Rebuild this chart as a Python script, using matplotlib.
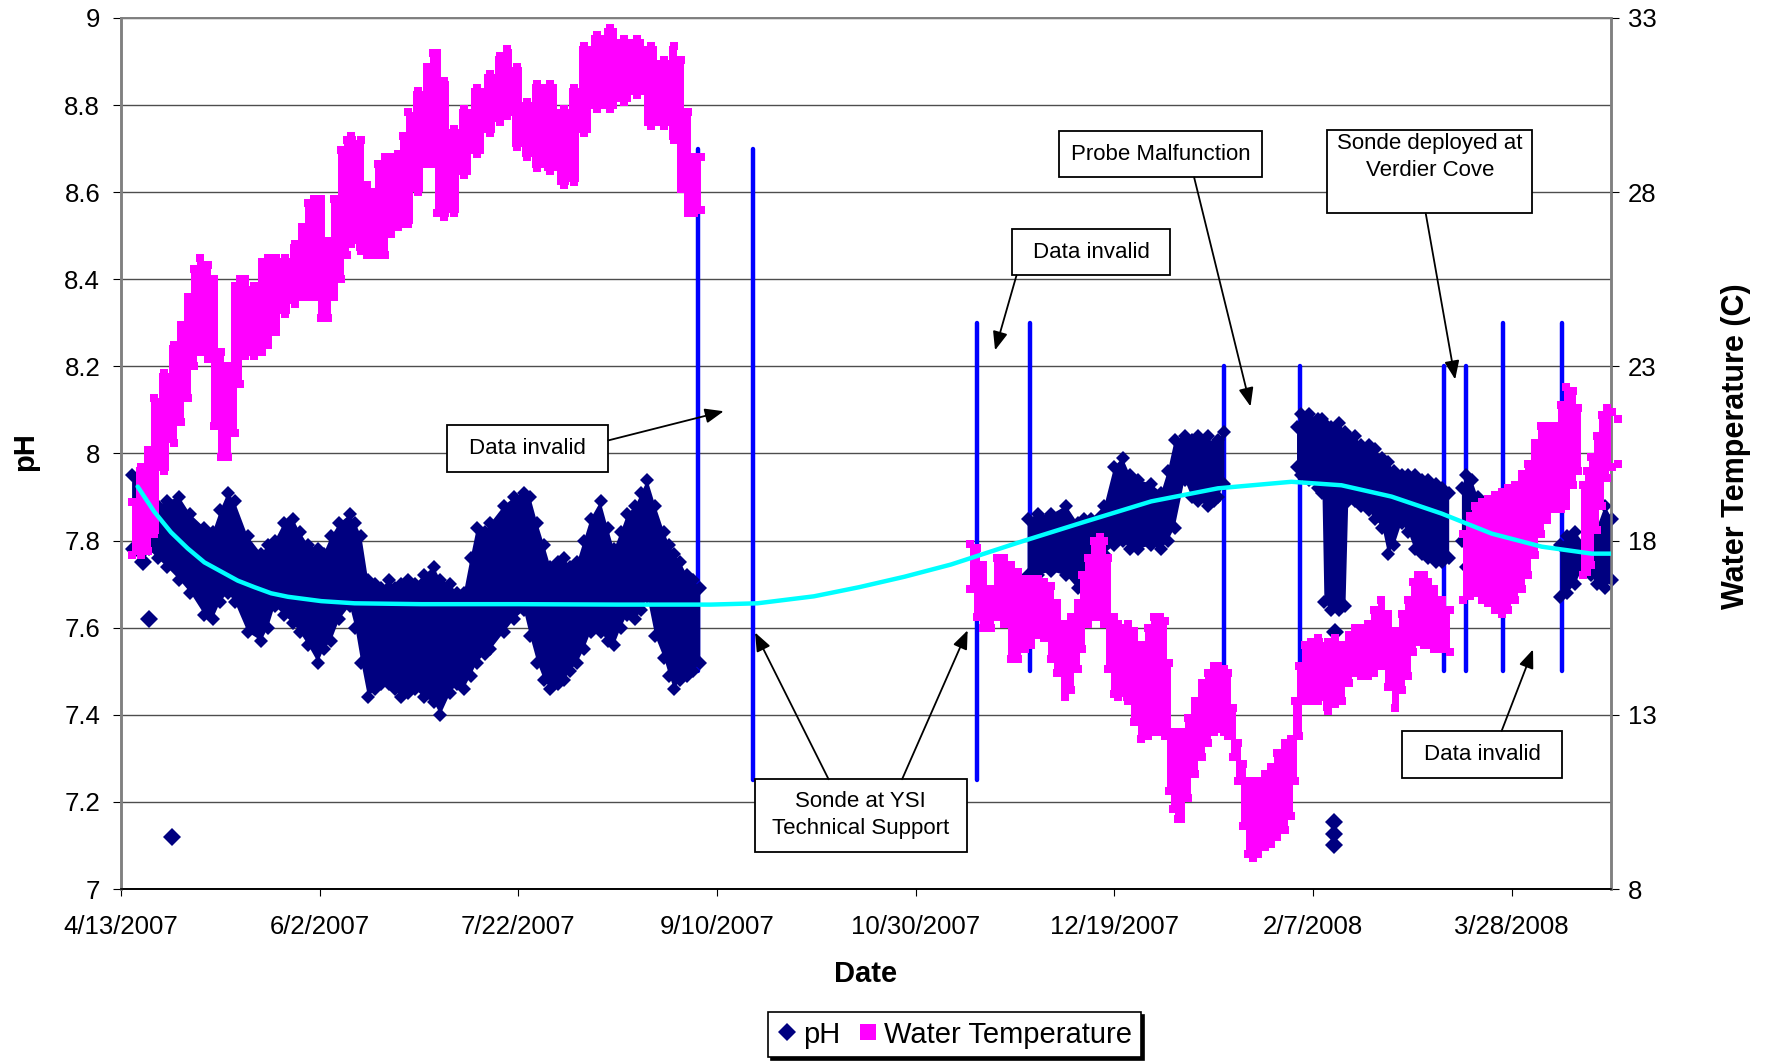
import numpy as np
import pandas as pd
import matplotlib
matplotlib.use('Agg')
import matplotlib.pyplot as plt
from matplotlib.lines import Line2D
from matplotlib.patches import Rectangle

plt.rcParams['font.family'] = ['Liberation Sans', 'DejaVu Sans']

start = pd.Timestamp('2007-04-13')
tick_labels = ['4/13/2007', '6/2/2007', '7/22/2007', '9/10/2007',
               '10/30/2007', '12/19/2007', '2/7/2008', '3/28/2008']
nan = np.nan

# pH envelope (low / high of the 15-min readings), x = days since 4/13/2007
ph_day = [2.8, 5.0, 7.0, 9.2, 11.5, 14.7, 17.5, 21.0, 23.1, 25.0, 26.9, 28.6, 31.9, 35.3, 37.0, 38.7,
          41.0, 43.3, 45.0, 47.1, 49.6, 51.0, 52.9, 55.0, 57.6, 59.0, 60.5, 62.2, 64.0, 65.5, 67.5,
          68.9, 70.5, 72.3, 74.0, 76.2, 78.7, 80.4, 82.9, 84.5, 86.3, 88.0, 89.6, 91.5, 93.0, 96.4,
          99.0, 101.4, 103.0, 104.8, 106.5, 108.1, 110.0, 111.5, 113.0, 114.8, 116.5, 118.2, 120.7,
          122.5, 124.1, 125.8, 127.4, 129.5, 131.0, 132.5, 134.5, 136.7, 138.0, 139.2, 140.8, 142.5,
          144.0, 145.8, 150,
          228.2, 230.7, 234.1, 237.9, 240.8, 242.5, 244.2, 247.5, 250.0, 252.1, 254.0, 255.9, 259.3,
          261.8, 263.5, 265.2, 267.7, 269.5, 271.1, 273.6, 275.0, 276.1, 277.7, 285,
          296.0, 297.0, 299.0, 301.3, 302.4, 302.9, 304.5, 306.5, 308.2, 308.9, 310.5, 312.2, 314.0,
          315.6, 317.5, 318.9, 320.5, 322.3, 324.0, 325.6, 327.5, 329.0, 331.0, 332.4, 334.3, 336,
          337.5, 338.5, 340.0, 341.5, 350,
          362.3, 364.0, 366.0, 368.5, 370.0, 371.5, 373.5, 375.3]
ph_lo = [7.78, 7.77, 7.78, 7.76, 7.74, 7.71, 7.68, 7.63, 7.62, 7.66, 7.68, 7.66, 7.59, 7.57, 7.60, 7.65,
         7.63, 7.61, 7.59, 7.56, 7.52, 7.55, 7.57, 7.62, 7.65, 7.60, 7.52, 7.44, 7.46, 7.47, 7.47,
         7.46, 7.44, 7.45, 7.46, 7.44, 7.43, 7.40, 7.45, 7.47, 7.46, 7.49, 7.52, 7.54, 7.55, 7.59,
         7.62, 7.64, 7.58, 7.52, 7.48, 7.46, 7.47, 7.48, 7.50, 7.52, 7.55, 7.59, 7.59,
         7.57, 7.56, 7.60, 7.63, 7.62, 7.64, 7.67, 7.58, 7.53, 7.49, 7.46, 7.48, 7.49,
         7.50, 7.52, nan,
         7.72, 7.72, 7.73, 7.72, 7.69, 7.72, 7.74, 7.77, 7.79, 7.80, 7.78, 7.78, 7.79,
         7.78, 7.80, 7.83, 7.94, 7.90, 7.89, 7.88, 7.89, 7.90, 7.93, nan,
         7.97, 7.95, 7.94, 7.92, 7.91, 7.66, 7.64, 7.64, 7.65, 7.89, 7.89, 7.88, 7.87,
         7.85, 7.83, 7.77, 7.79, 7.84, 7.82, 7.78, 7.77, 7.76, 7.75, 7.75, 7.76, nan,
         7.80, 7.74, 7.74, 7.77, nan,
         7.67, 7.68, 7.70, 7.75, 7.72, 7.70, 7.69, 7.71]
ph_hi = [7.95, 7.94, 7.93, 7.88, 7.89, 7.90, 7.86, 7.83, 7.82, 7.87, 7.91, 7.89, 7.81, 7.77, 7.79, 7.80,
         7.84, 7.85, 7.82, 7.79, 7.78, 7.77, 7.81, 7.84, 7.86, 7.84, 7.81, 7.71, 7.70, 7.69, 7.71,
         7.69, 7.70, 7.71, 7.70, 7.72, 7.74, 7.71, 7.70, 7.68, 7.68, 7.76, 7.83, 7.82, 7.84, 7.88,
         7.90, 7.91, 7.90, 7.84, 7.79, 7.74, 7.75, 7.76, 7.74, 7.75, 7.80, 7.85, 7.89,
         7.83, 7.78, 7.82, 7.86, 7.88, 7.91, 7.94, 7.88, 7.82, 7.79, 7.77, 7.75, 7.72,
         7.71, 7.69, nan,
         7.85, 7.86, 7.86, 7.88, 7.84, 7.85, 7.85, 7.88, 7.97, 7.99, 7.95, 7.94, 7.93,
         7.91, 7.96, 8.03, 8.04, 8.03, 8.04, 8.04, 8.02, 8.03, 8.05, nan,
         8.06, 8.09, 8.09, 8.08, 8.08, 8.07, 8.06, 8.07, 8.05, 8.04, 8.04, 8.02, 8.02,
         8.01, 7.99, 7.98, 7.96, 7.95, 7.95, 7.95, 7.94, 7.94, 7.93, 7.92, 7.91, nan,
         7.92, 7.95, 7.94, 7.90, nan,
         7.79, 7.81, 7.82, 7.79, 7.80, 7.83, 7.88, 7.85]

# isolated pH readings
ph_out_day = [5.5, 7.1, 12.8, 305.5, 306.2, 305.6, 305.4, 305.4, 305.4, 344.0, 344.8]
ph_out_val = [7.75, 7.62, 7.12, 7.59, 7.55, 7.48, 7.153, 7.127, 7.101, 7.75, 7.72]

# water temperature envelope (C)
temp_day = [2.8, 5.0, 6.7, 8.4, 10.9, 13.4, 15.0, 16.8, 18.5, 20.0, 21.8, 23.5, 25.2, 26.9, 28.6, 30.0,
            31.1, 33.6, 35.5, 37.0, 39.0, 41.2, 43.7, 45.5, 47.0, 48.7, 50.4, 52.1, 53.7, 55.5, 57.0,
            58.0, 60.5, 61.8, 63.0, 64.8, 66.4, 68.0, 69.7, 71.0, 72.3, 74.8, 77.0, 78.5, 79.6, 81.3,
            83.8, 86.3, 89.7, 93.0, 95.5, 97.2, 99.7, 102.2, 104.8, 108.1, 111.5, 114.0, 116.5, 119.9,
            123.2, 126.6, 130.0, 133.3, 136.7, 139.2, 140.9, 142.6, 144.2, 145.9, 180,
            213.8, 215.5, 217.0, 219.0, 220.5, 222.3, 224.0, 225.7, 227.5, 229.1, 230.8, 232.4, 234.0,
            235.5, 237.5, 239.0, 240.8, 242.0, 243.3, 245.0, 246.3, 247.5, 248.4, 250.0, 250.9, 253.4,
            255.0, 256.8, 258.5, 260.1, 261.5, 262.7, 263.8, 264.7, 266.0, 266.9, 268.5, 270.2, 272.0,
            273.6, 275.0, 276.1, 277.5, 278.6, 280.0, 281.1, 282.5, 283.7, 285.0, 286.2, 288.0, 289.5,
            291.0, 292.9, 294.6, 295.4, 296.5, 297.9, 299.5, 301.3, 303.8, 305.5, 307.2, 309.0, 310.5,
            312.0, 313.9, 315.5, 317.2, 319.0, 320.6, 322.5, 324.0, 325.2, 326.5, 328.0, 329.0, 330.5,
            332.4, 334.5, 336.2,
            337.8, 339.5, 340.8, 342.5, 344.1, 345.8, 347.5, 349.0, 350.8, 352.5, 354.2, 355.8, 357.5,
            359.0, 360.9, 362.5, 363.8, 365.5, 366.8, 368.0, 369.0, 370.1, 371.5, 372.7, 374.0, 375.2,
            376.8]
temp_lo = [17.6, 17.6, 17.7, 18.2, 20.0, 20.8, 21.4, 22.1, 23.0, 23.4, 23.2, 21.3, 20.4, 20.4, 21.1, 22.5,
           23.3, 23.3, 23.4, 23.6, 24.0, 24.5, 24.8, 25.0, 25.0, 25.0, 24.4, 24.4, 25.0, 25.5, 26.2,
           26.5, 26.3, 26.2, 26.2, 26.2, 26.2, 26.8, 27.0, 27.1, 27.1, 28.0, 28.8, 28.8, 27.4, 27.3,
           27.4, 28.5, 29.1, 29.7, 30.0, 30.2, 29.3, 29.0, 28.7, 28.6, 28.2, 28.3, 29.7, 30.4,
           30.4, 30.6, 30.8, 29.9, 29.9, 29.5, 28.1, 27.4, 27.4, 27.5, nan,
           16.6, 15.8, 15.5, 15.5, 15.8, 15.6, 14.6, 14.6, 14.9, 15.0, 15.3, 15.2, 14.6,
           14.2, 13.5, 13.7, 14.3, 14.9, 15.6, 15.8, 15.8, 15.6, 14.3, 13.6, 13.5, 13.4,
           12.8, 12.3, 12.4, 12.5, 12.5, 12.4, 10.8, 10.3, 10.0, 10.0, 10.6, 11.3, 11.8,
           12.2, 12.5, 12.6, 12.5, 12.4, 11.8, 11.1, 9.8, 9.0, 8.9, 9.0, 9.2, 9.3,
           9.5, 9.7, 10.1, 11.1, 12.4, 13.4, 13.4, 13.4, 13.1, 13.3, 13.4, 13.9, 14.2,
           14.1, 14.1, 14.2, 14.4, 13.8, 13.2, 13.7, 14.1, 14.8, 15.1, 15.0, 15.0, 14.9,
           14.9, 14.8, nan,
           16.3, 16.4, 16.5, 16.3, 16.2, 16.0, 15.9, 16.0, 16.3, 16.6, 17.0, 17.6, 18.2,
           18.6, 18.9, 18.9, 19.0, 19.6, 20.0, 17.0, 17.1, 17.3, 18.3, 19.0, 19.8, 20.1,
           20.2]
temp_hi = [19.1, 20.1, 20.6, 22.1, 22.8, 23.6, 24.2, 25.0, 25.8, 26.1, 25.9, 25.5, 23.4, 23.0, 25.3, 25.5,
           25.5, 25.3, 26.0, 26.1, 26.1, 26.1, 26.5, 27.0, 27.7, 27.8, 27.8, 26.6, 27.8, 29.2, 29.5,
           29.6, 29.5, 28.2, 28.0, 28.8, 29.0, 29.0, 29.1, 29.6, 30.3, 30.9, 31.6, 32.0, 32.0, 31.2,
           29.8, 30.4, 31.0, 31.4, 31.9, 32.1, 31.6, 30.6, 31.1, 31.1, 30.4, 31.0, 32.2, 32.5,
           32.7, 32.4, 32.4, 32.2, 31.8, 32.2, 31.8, 30.3, 29.0, 29.0, nan,
           17.9, 17.8, 17.3, 16.6, 17.5, 17.5, 17.3, 17.1, 16.9, 16.9, 16.9, 16.8, 16.7,
           16.2, 15.6, 15.8, 16.2, 17.0, 17.5, 18.0, 18.1, 18.0, 17.5, 15.8, 15.6, 15.6,
           15.4, 15.0, 15.5, 15.8, 15.8, 15.7, 14.5, 12.5, 12.5, 12.5, 12.9, 13.4, 13.9,
           14.2, 14.4, 14.4, 14.3, 14.2, 13.2, 12.2, 11.6, 11.1, 11.1, 11.1, 11.3, 11.5,
           11.9, 12.2, 12.3, 13.4, 14.4, 15.0, 15.1, 15.2, 15.1, 15.2, 15.0, 15.3, 15.5,
           15.5, 15.6, 16.0, 16.3, 15.9, 15.4, 15.9, 16.3, 16.8, 17.0, 17.0, 16.8, 16.6,
           16.3, 16.0, nan,
           18.2, 18.7, 19.0, 19.1, 19.2, 19.3, 19.4, 19.5, 19.6, 19.9, 20.2, 20.8, 21.3,
           21.3, 21.3, 21.9, 22.4, 22.3, 21.8, 19.6, 20.0, 20.4, 21.0, 21.6, 21.8, 21.7,
           21.5]

# polynomial trendline of pH
trend_day = [4.2, 8.4, 12.6, 16.8, 21.0, 25.2, 29.4, 33.6, 37.8, 42.0, 50.4, 58.8, 75.6, 100, 125,
             148.4, 160.2, 174.4, 185.8, 197.2, 208.9, 225.7, 242.5, 259.3, 276.1, 294.6, 307.2,
             319.8, 332.4, 345.0, 357.6, 370.2, 375.6]
trend_ph = [7.924, 7.866, 7.819, 7.782, 7.750, 7.729, 7.708, 7.693, 7.679, 7.671, 7.661, 7.656, 7.654,
            7.654, 7.653, 7.653, 7.656, 7.672, 7.693, 7.717, 7.745, 7.795, 7.843, 7.890, 7.920, 7.935,
            7.927, 7.901, 7.862, 7.816, 7.786, 7.770, 7.770]

# breaks in the record
gap_day = [145.2, 159.1, 215.4, 228.8, 277.7, 296.8, 333.0, 338.6, 347.8, 362.8]
gap_lo = [7.50, 7.25, 7.25, 7.50, 7.50, 7.50, 7.50, 7.50, 7.50, 7.50]
gap_hi = [8.70, 8.70, 8.30, 8.30, 8.20, 8.20, 8.20, 8.20, 8.30, 8.30]

NAVY = '#000080'
MAGENTA = '#FF00FF'

fig = plt.figure(figsize=(17.71, 10.62), dpi=100)
ax = fig.add_axes([0.0683, 0.1629, 0.8413, 0.8202])
ax2 = ax.twinx()

# gaps, then pH band
lc = ax.vlines(gap_day, gap_lo, gap_hi, color='#0000FF', lw=3.2, zorder=2)
lc.set_capstyle('round')
ax.fill_between(ph_day, ph_lo, ph_hi, color=NAVY, lw=0, zorder=3)
for edge in (ph_lo, ph_hi):
    ax.plot(ph_day, edge, 'D', color=NAVY, ms=7, mew=0, zorder=3, clip_on=False)
ax.plot(ph_out_day, ph_out_val, 'D', color=NAVY, ms=9, mew=0, zorder=3)

# temperature band on the right axis
ax2.fill_between(temp_day, temp_lo, temp_hi, step='mid', color=MAGENTA, lw=0, zorder=3)
for edge in (temp_lo, temp_hi):
    ax2.plot(temp_day, edge, 's', color=MAGENTA, ms=6, mew=0, zorder=3, clip_on=False)

# trendline sits above both series
ax2.plot(trend_day, trend_ph, color='#00FFFF', lw=3.2, solid_capstyle='round',
         transform=ax.transData, zorder=5)

# axes
tick_days = [(pd.to_datetime(t, format='%m/%d/%Y') - start).days for t in tick_labels]
ax.set_xlim(0, 375)
ax.set_ylim(7, 9)
ax2.set_ylim(8, 33)
ax.set_xticks(tick_days)
ax.set_xticklabels(tick_labels)
ph_ticks = np.round(np.arange(7, 9.01, 0.2), 1)
ax.set_yticks(ph_ticks)
ax.set_yticklabels(['%g' % v for v in ph_ticks])
ax2.set_yticks(range(8, 34, 5))

ax.yaxis.grid(True, color='#4d4d4d', lw=1.0)
ax.set_axisbelow(True)
ax.tick_params(axis='x', length=5, pad=14, labelsize=18.5)
ax.tick_params(axis='y', length=6, pad=9, labelsize=18.5)
ax2.tick_params(axis='y', length=6, pad=6, labelsize=18.5)
for a in (ax, ax2):
    for side in ('left', 'right', 'top'):
        a.spines[side].set_color('#808080')
        a.spines[side].set_linewidth(1.8)
    a.spines['top'].set_linewidth(1.2)
    a.spines['bottom'].set_color('black')
    a.spines['bottom'].set_linewidth(1.2)

fig.text(0.0141, 0.5746, 'pH', rotation=90, ha='center', va='center', fontsize=21, fontweight='bold')
fig.text(0.9803, 0.58, 'Water Temperature (C)', rotation=90, ha='center', va='center',
         fontsize=22, fontweight='bold')
fig.text(0.489, 0.0832, 'Date', ha='center', va='center', fontsize=21, fontweight='bold')

# callout boxes: (text, x0, x1, y0, y1, text x, text y)
notes = [
    ('Data invalid', 81.96, 122.65, 7.957, 8.066, 102.3, 8.012),
    ('Data invalid', 224.25, 264.09, 8.409, 8.515, 244.2, 8.462),
    ('Probe Malfunction', 236.2, 287.1, 8.634, 8.741, 261.7, 8.687),
    ('Sonde deployed at\nVerdier Cove', 303.6, 355.1, 8.551, 8.743, 329.4, 8.681),
    ('Sonde at YSI\nTechnical Support', 159.6, 212.9, 7.086, 7.252, 186.1, 7.170),
    ('Data invalid', 322.4, 362.8, 7.254, 7.363, 342.6, 7.309),
]
for text, x0, x1, y0, y1, tx, ty in notes:
    ax2.add_patch(Rectangle((x0, y0), x1 - x0, y1 - y0, transform=ax.transData,
                            facecolor='white', edgecolor='black', lw=1.3, zorder=6))
    ax2.text(tx, ty, text, transform=ax.transData, ha='center', va='center',
             fontsize=16, zorder=7, linespacing=1.4)

# arrows: (start, tip)
arrows = [
    ((122.65, 8.030), (151.7, 8.097)),
    ((225.4, 8.409), (220.0, 8.237)),
    ((270.1, 8.634), (284.3, 8.108)),
    ((328.4, 8.551), (335.8, 8.170)),
    ((178.1, 7.252), (159.6, 7.589)),
    ((196.6, 7.252), (213.1, 7.594)),
    ((347.5, 7.363), (355.4, 7.550)),
]
for s, t in arrows:
    ax2.annotate('', xy=t, xytext=s, xycoords=ax.transData, textcoords=ax.transData,
                 arrowprops=dict(arrowstyle='-|>,head_length=0.45,head_width=0.18',
                                 mutation_scale=25, color='black', lw=1.3,
                                 shrinkA=0, shrinkB=0), zorder=7)

handles = [Line2D([], [], marker='D', color=NAVY, ls='', ms=9, mew=0),
           Line2D([], [], marker='s', color=MAGENTA, ls='', ms=12, mew=0)]
leg = fig.legend(handles, ['pH', 'Water Temperature'], loc='center', bbox_to_anchor=(0.539, 0.0258),
                 ncol=2, fontsize=21, fancybox=False, edgecolor='black', framealpha=1,
                 shadow={'color': 'black', 'alpha': 1}, handlelength=0.7, handletextpad=0.2,
                 columnspacing=0.6, borderpad=0.3, borderaxespad=0)
leg.get_frame().set_linewidth(1.2)

fig.savefig('out.png', dpi=100)
